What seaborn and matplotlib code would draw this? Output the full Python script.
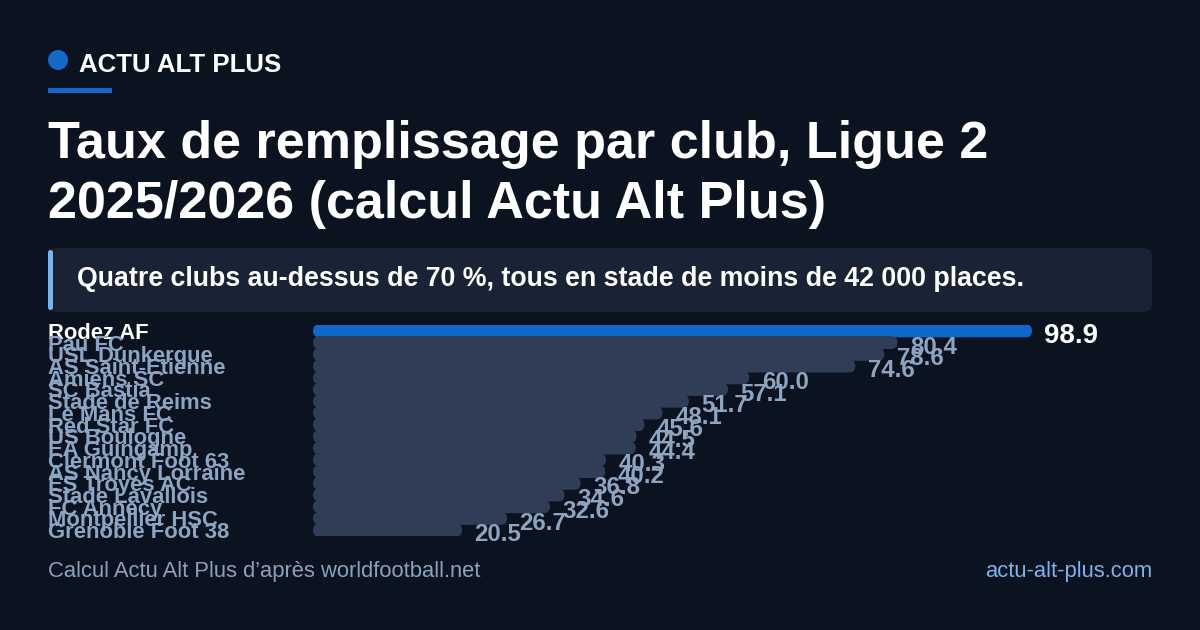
import pandas as pd
import seaborn as sns
import matplotlib.pyplot as plt
from matplotlib.patches import FancyBboxPatch, Ellipse, Rectangle
from matplotlib.transforms import Affine2D, blended_transform_factory

# Data
clubs = [
    "Rodez AF", "Pau FC", "USL Dunkerque", "AS Saint-Etienne", "Amiens SC",
    "SC Bastia", "Stade de Reims", "Le Mans FC", "Red Star FC", "US Boulogne",
    "EA Guingamp", "Clermont Foot 63", "AS Nancy Lorraine", "ES Troyes AC",
    "Stade Lavallois", "FC Annecy", "Montpellier HSC", "Grenoble Foot 38",
]
fill_rate = [98.9, 80.4, 78.6, 74.6, 60.0, 57.1, 51.7, 48.1, 45.6, 44.5,
             44.4, 40.3, 40.2, 36.8, 34.6, 32.6, 26.7, 20.5]
value_labels = [f"{v:.1f}" for v in fill_rate]

df = pd.DataFrame({"club": clubs, "taux": fill_rate})

W, H = 1200, 630
BG = "#0b1220"
BLUE = "#0f67c9"
GREY_BAR = "#2f3d56"
LABEL = "#8ca5c3"
bar_colors = [BLUE] + [GREY_BAR] * (len(clubs) - 1)

sns.set_theme(style="white")
plt.rcParams["font.family"] = ["Liberation Sans", "DejaVu Sans"]

fig = plt.figure(figsize=(12, 6.3), dpi=100, facecolor=BG)
# pixel coordinates, origin top-left
pxT = Affine2D().scale(1 / W, -1 / H).translate(0, 1) + fig.transFigure

# chart area
x0, x1, y0, y1 = 313, 1032, 325, 536
ax = fig.add_axes([x0 / W, 1 - y1 / H, (x1 - x0) / W, (y1 - y0) / H])
sns.barplot(data=df, x="taux", y="club", hue="club", palette=bar_colors,
            legend=False, orient="h", width=1.0, saturation=1, ax=ax)
ax.set_xlim(0, max(fill_rate))
ax.set_ylim(len(clubs) - 0.5, -0.5)
ax.axis("off")

# rounded bars, slightly taller than a row so they touch
xpx = (x1 - x0) / max(fill_rate)
ypx = (y1 - y0) / len(clubs)
radius = 6.5 / xpx
for p in list(ax.patches):
    x, y, w, h = p.get_x(), p.get_y(), p.get_width(), p.get_height()
    fc = p.get_facecolor()
    p.remove()
    hh = 13 / ypx
    yc = y + h / 2
    ax.add_patch(FancyBboxPatch((x, yc - hh / 2), w, hh,
                                boxstyle=f"round,pad=0,rounding_size={radius}",
                                mutation_aspect=xpx / ypx, fc=fc, ec="none"))

# club names and values
name_tr = blended_transform_factory(pxT, ax.transData)
for i, (club, lab) in enumerate(zip(clubs, value_labels)):
    first = i == 0
    ax.text(48, i, club, transform=name_tr, ha="left", va="center_baseline",
            fontsize=15.8, fontweight="bold", color="white" if first else LABEL)
    ax.annotate(lab, xy=(fill_rate[i], i), xytext=(9, -1.5),
                textcoords="offset points", ha="left", va="center_baseline",
                fontsize=20 if first else 17.3, fontweight="bold",
                color="white" if first else "#8ea5bf", annotation_clip=False)

# header
fig.patches.append(Ellipse((58 / W, 1 - 60 / H), 20 / W, 20 / H,
                           transform=fig.transFigure, fc="#1468c8", ec="none"))
fig.text(79, 72, "ACTU ALT PLUS", transform=pxT, fontsize=18.6, fontweight="bold",
         color="white", va="baseline")
fig.patches.append(Rectangle((48, 88), 64, 5, transform=pxT, fc="#1468c8", ec="none"))

# title
fig.text(48, 158, "Taux de remplissage par club, Ligue 2", transform=pxT,
         fontsize=37.5, fontweight="bold", color="white", va="baseline")
fig.text(48, 218, "2025/2026 (calcul Actu Alt Plus)", transform=pxT,
         fontsize=37.5, fontweight="bold", color="white", va="baseline")

# subtitle box
fig.patches.append(FancyBboxPatch((48, 248), 1104, 64, transform=pxT,
                                  boxstyle="round,pad=0,rounding_size=9",
                                  fc="#1a2336", ec="none"))
fig.patches.append(FancyBboxPatch((48, 250), 5, 60, transform=pxT,
                                  boxstyle="round,pad=0,rounding_size=2.5",
                                  fc="#78b4f0", ec="none"))
fig.text(77, 286, "Quatre clubs au-dessus de 70 %, tous en stade de moins de 42 000 places.",
         transform=pxT, fontsize=19.3, fontweight="bold", color="white", va="baseline")

# footer
fig.text(48, 577, "Calcul Actu Alt Plus d’après worldfootball.net", transform=pxT,
         fontsize=15.8, color="#8aa3bd", va="baseline")
fig.text(1152, 577, "actu-alt-plus.com", transform=pxT, fontsize=15.8,
         color="#7db3ec", va="baseline", ha="right")

fig.savefig("out.png", dpi=100, facecolor=BG)
